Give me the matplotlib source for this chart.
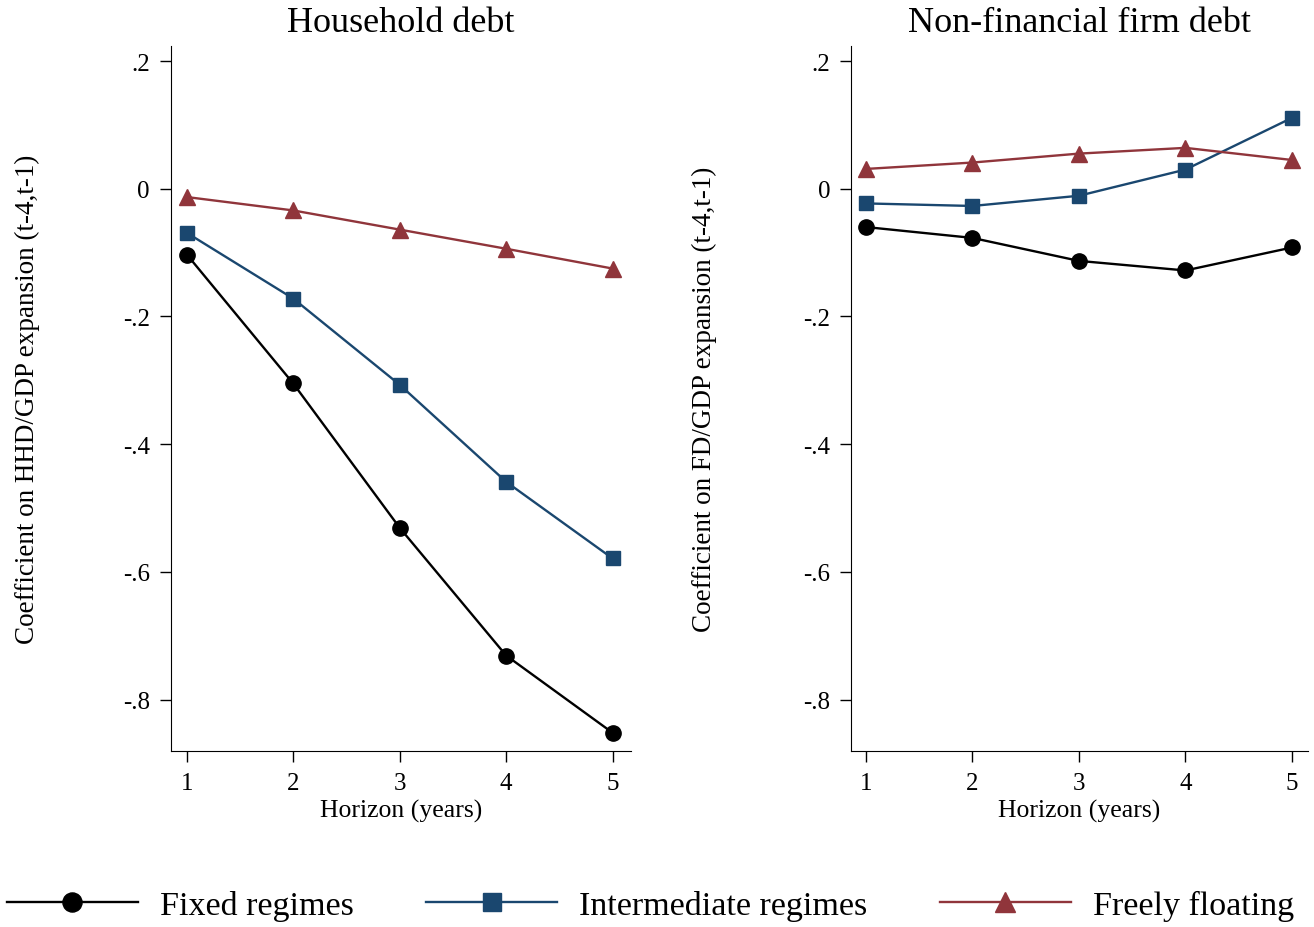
import matplotlib.pyplot as plt
from matplotlib.ticker import FuncFormatter

plt.rcParams["font.family"] = ["Liberation Serif", "DejaVu Serif"]

horizon = [1, 2, 3, 4, 5]

# Household debt panel
hh_fixed = [-0.103, -0.305, -0.531, -0.731, -0.852]
hh_inter = [-0.069, -0.172, -0.307, -0.459, -0.579]
hh_float = [-0.013, -0.034, -0.064, -0.094, -0.125]

# Non-financial firm debt panel
fd_fixed = [-0.060, -0.077, -0.113, -0.128, -0.092]
fd_inter = [-0.023, -0.027, -0.011, 0.030, 0.111]
fd_float = [0.031, 0.041, 0.055, 0.064, 0.045]

titles = ["Household debt", "Non-financial firm debt"]
ylabels = ["Coefficient on HHD/GDP expansion (t-4,t-1)",
           "Coefficient on FD/GDP expansion (t-4,t-1)"]
series_names = ["Fixed regimes", "Intermediate regimes", "Freely floating"]
yticks = [0.2, 0, -0.2, -0.4, -0.6, -0.8]

colors = ["black", "#1a476f", "#90353b"]
markers = ["o", "s", "^"]
msizes = [11, 10.5, 12]

fig = plt.figure(figsize=(13.14, 9.28), dpi=100)
ax1 = fig.add_axes([0.130, 0.190, 0.350, 0.759])
ax2 = fig.add_axes([0.6476, 0.190, 0.3478, 0.759])


def tick_fmt(v, pos):
    if abs(v) < 1e-9:
        return "0"
    s = f"{v:.1f}"
    return s.replace("0.", ".")


panels = [(ax1, [hh_fixed, hh_inter, hh_float], (0.85, 5.17), -0.285),
          (ax2, [fd_fixed, fd_inter, fd_float], (0.86, 5.15), -0.293)]

handles = []
for i, (ax, data, xlim, ylab_x) in enumerate(panels):
    for vals, c, m, ms, name in zip(data, colors, markers, msizes, series_names):
        h, = ax.plot(horizon, vals, color=c, marker=m, markersize=ms,
                     linewidth=1.7, label=name)
        if i == 0:
            handles.append(h)
    ax.set_xlim(*xlim)
    ax.set_ylim(-0.88, 0.223)
    ax.set_xticks(horizon)
    ax.set_yticks(yticks)
    ax.yaxis.set_major_formatter(FuncFormatter(tick_fmt))
    ax.spines["top"].set_visible(False)
    ax.spines["right"].set_visible(False)
    ax.tick_params(direction="out", length=8, width=1, labelsize=18, pad=7)
    ax.set_title(titles[i], fontsize=26, pad=11)
    ax.set_xlabel("Horizon (years)", fontsize=18.5, labelpad=4)
    ax.set_ylabel(ylabels[i], fontsize=19.5)
    ax.yaxis.set_label_coords(ylab_x, 0.5)

fig.legend(handles=handles, labels=series_names, loc="lower center",
           bbox_to_anchor=(0.495, -0.012), ncol=3, frameon=False, fontsize=24.5,
           handlelength=3.85, handletextpad=0.65, columnspacing=2.13,
           markerscale=1.25, borderaxespad=0.1)

fig.savefig("out.png", dpi=100)
